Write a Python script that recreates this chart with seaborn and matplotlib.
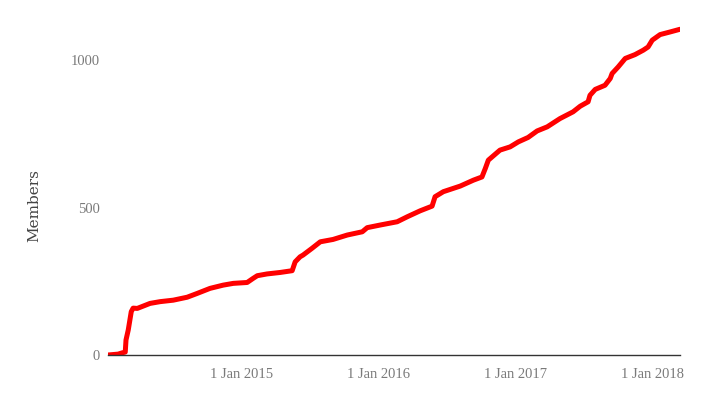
import pandas as pd
import numpy as np
import seaborn as sns
import matplotlib.pyplot as plt

# Member count over time
dates = [
    "2014-01-11", "2014-02-07", "2014-02-17", "2014-02-26", "2014-02-28",
    "2014-03-06", "2014-03-14", "2014-03-19", "2014-03-30", "2014-05-03",
    "2014-05-30", "2014-07-04", "2014-08-10", "2014-09-06", "2014-10-10",
    "2014-11-14", "2014-12-11", "2015-01-17", "2015-02-02", "2015-02-13",
    "2015-03-11", "2015-04-15", "2015-05-17", "2015-05-25", "2015-06-07",
    "2015-06-15", "2015-07-09", "2015-07-31", "2015-09-03", "2015-10-11",
    "2015-11-20", "2015-12-03", "2016-01-07", "2016-02-21", "2016-03-19",
    "2016-04-22", "2016-05-24", "2016-06-01", "2016-06-23", "2016-08-07",
    "2016-09-11", "2016-10-04", "2016-10-13", "2016-10-21", "2016-11-21",
    "2016-12-18", "2017-01-09", "2017-02-04", "2017-02-28", "2017-03-27",
    "2017-04-30", "2017-06-04", "2017-06-23", "2017-07-14", "2017-07-19",
    "2017-08-02", "2017-08-28", "2017-09-11", "2017-09-16", "2017-10-02",
    "2017-10-21", "2017-11-16", "2017-12-08", "2017-12-21", "2018-01-01",
    "2018-01-22", "2018-02-18", "2018-03-16",
]
members = [
    0, 3, 7, 10, 51,
    85, 147, 159, 158, 175,
    181, 186, 196, 209, 226,
    237, 243, 246, 260, 269,
    275, 280, 286, 316, 333,
    339, 362, 384, 392, 407,
    418, 432, 441, 452, 469,
    489, 505, 537, 554, 573,
    593, 604, 633, 661, 695,
    706, 723, 738, 760, 774,
    802, 825, 844, 859, 881,
    901, 915, 938, 955, 977,
    1006, 1019, 1034, 1045, 1068,
    1087, 1096, 1105,
]
y_ticks = [0, 500, 1000]
x_ticks = ["2015-01-01", "2016-01-01", "2017-01-01", "2018-01-01"]

df = pd.DataFrame({"date": pd.to_datetime(dates), "members": members})

sns.set_theme(style="white")
plt.rcParams["font.family"] = ["Liberation Serif", "DejaVu Serif"]

fig = plt.figure(figsize=(7.23, 4.0), dpi=100)
ax = fig.add_axes([108 / 723, 1 - 355 / 400, 572 / 723, 339 / 400])

sns.lineplot(data=df, x="date", y="members", ax=ax, color="#ff0000",
             linewidth=3.6, solid_joinstyle="round", solid_capstyle="round")

ax.set_xlim(pd.Timestamp("2014-01-11"), pd.Timestamp("2018-03-16"))
ax.set_ylim(0, 1150)

ax.set_yticks(y_ticks)
ax.set_yticklabels([str(v) for v in y_ticks])
ax.set_xticks(pd.to_datetime(x_ticks))
ax.set_xticklabels([pd.Timestamp(t).strftime("1 Jan %Y") for t in x_ticks])
ax.tick_params(axis="both", length=0, labelsize=10.5, colors="#7a7a7a")
ax.tick_params(axis="y", pad=6)
ax.tick_params(axis="x", pad=9)

ax.set_xlabel("")
ax.set_ylabel("Members", fontsize=11, color="#444444", family=["DejaVu Serif"])
ax.yaxis.set_label_coords(-0.117, 0.44)

for side in ["top", "right", "left"]:
    ax.spines[side].set_visible(False)
ax.spines["bottom"].set_color("#333333")
ax.spines["bottom"].set_linewidth(1.0)
ax.grid(False)

fig.savefig("out.png", dpi=100)
